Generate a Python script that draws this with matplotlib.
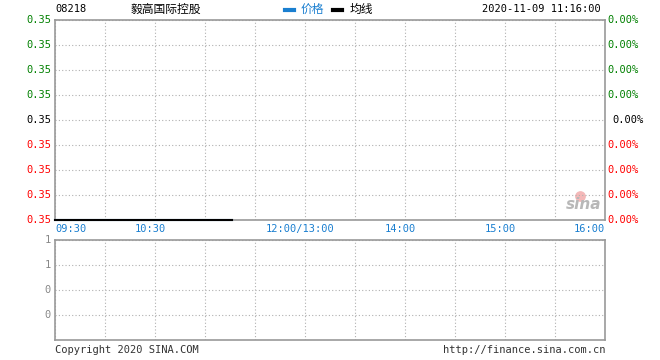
import matplotlib

matplotlib.use("Agg")

import matplotlib.pyplot as plt

# data
code = "08218"
name = "毅高国际控股"
stamp = "2020-11-09 11:16:00"
hours_ticks = [0.0, 1.0, 2.5, 3.5, 4.5, 5.5]  # trading hours since 09:30 (lunch removed)
time_labels = ["09:30", "10:30", "12:00/13:00", "14:00", "15:00", "16:00"]
price_t = [0.0, 1.7667]  # 09:30 .. 11:16
price = [0.35, 0.35]
avg_price = [0.35, 0.35]
left_labels = ["0.35"] * 9
right_labels = ["0.00%"] * 9
label_colors = ["#008000"] * 4 + ["#000000"] + ["#ff0000"] * 4
vol_labels = ["0", "0", "1", "1"]

mono = "DejaVu Sans Mono"
cjk = ["Noto Sans CJK SC", "DejaVu Sans"]
grid_c = "#b0b0b0"
edge_c = "#999999"
blue = "#1a7fd0"

fig = plt.figure(figsize=(6.6, 3.6), dpi=100)
W, H = 660.0, 360.0

ax = fig.add_axes([55 / W, (H - 220) / H, 550 / W, 200 / H])
ax.set_xlim(0, 5.5)
ax.set_ylim(0.35, 0.358)
ax.set_xticks([i * 0.5 for i in range(12)])
ax.set_xticklabels([])
yt = [0.35 + 0.001 * i for i in range(9)]
ax.set_yticks(yt)
ax.set_yticklabels([])
ax.tick_params(length=0)
ax.grid(True, color=grid_c, linestyle=(0, (1, 2)), linewidth=0.8)
for s in ax.spines.values():
    s.set_color(edge_c)
    s.set_linewidth(1.2)

ax.plot(price_t, price, color=blue, linewidth=1.5, clip_on=False, zorder=3)
ax.plot(price_t, avg_price, color="black", linewidth=1.5, clip_on=False, zorder=4)

# y labels on both sides, top to bottom
for y, ll, rl, c in zip(yt[::-1], left_labels, right_labels, label_colors):
    ax.text(-0.007, y, ll, transform=ax.get_yaxis_transform(), ha="right", va="center",
            color=c, fontsize=7.5, family=mono)
    rx = 1.014 if c == "#000000" else 1.004
    ax.text(rx, y, rl, transform=ax.get_yaxis_transform(), ha="left", va="center",
            color=c, fontsize=7.5, family=mono)

# time labels
for i, (h, lab) in enumerate(zip(hours_ticks, time_labels)):
    ha = "left" if i == 0 else ("right" if i == len(time_labels) - 1 else "center")
    x = h if ha != "center" else h - 0.05
    ax.text(x, -0.02, lab, transform=ax.get_xaxis_transform(), ha=ha, va="top",
            color=blue, fontsize=7.5, family=mono)

# watermark
ax.scatter([0.955], [0.12], transform=ax.transAxes, s=45, color="#f4b8b8", zorder=1,
           clip_on=False)
ax.text(0.993, 0.04, "sina", transform=ax.transAxes, ha="right", va="bottom",
        color="#b8b8b8", fontsize=11, fontweight="bold", style="italic",
        family="DejaVu Sans", zorder=2)

# volume pane
ax2 = fig.add_axes([55 / W, (H - 340) / H, 550 / W, 100 / H])
ax2.set_xlim(0, 5.5)
ax2.set_ylim(0, 1.6)
ax2.set_xticks([i * 0.5 for i in range(12)])
ax2.set_xticklabels([])
ax2.set_yticks([0.4, 0.8, 1.2, 1.6])
ax2.set_yticklabels([])
ax2.tick_params(length=0)
ax2.grid(True, color=grid_c, linestyle=(0, (1, 2)), linewidth=0.8)
for s in ax2.spines.values():
    s.set_color(edge_c)
    s.set_linewidth(1.2)
for y, lab in zip([0.4, 0.8, 1.2, 1.6], vol_labels):
    ax2.text(-0.008, y, lab, transform=ax2.get_yaxis_transform(), ha="right", va="center",
             color="#888888", fontsize=7.5, family=mono)

# header
fig.text(55 / W, 1 - 9 / H, code, ha="left", va="center", fontsize=7.5, family=mono)
fig.text(131 / W, 1 - 9 / H, name, ha="left", va="center", fontsize=8.5, family=cjk)
fig.lines.append(plt.Line2D([285 / W, 294 / W], [1 - 10 / H] * 2, transform=fig.transFigure,
                            color=blue, linewidth=3))
fig.text(301 / W, 1 - 9 / H, "价格", ha="left", va="center", fontsize=8.5, family=cjk, color=blue)
fig.lines.append(plt.Line2D([333 / W, 342 / W], [1 - 10 / H] * 2, transform=fig.transFigure,
                            color="black", linewidth=3))
fig.text(350 / W, 1 - 9 / H, "均线", ha="left", va="center", fontsize=8.5, family=cjk)
fig.text(601 / W, 1 - 9 / H, stamp, ha="right", va="center", fontsize=7.5, family=mono)

# footer
fig.text(55 / W, 1 - 350 / H, "Copyright 2020 SINA.COM", ha="left", va="center",
         fontsize=7.5, family=mono, color="#333333")
fig.text(605 / W, 1 - 350 / H, "http://finance.sina.com.cn", ha="right", va="center",
         fontsize=7.5, family=mono, color="#333333")

fig.savefig("out.png", dpi=100, facecolor="white")
